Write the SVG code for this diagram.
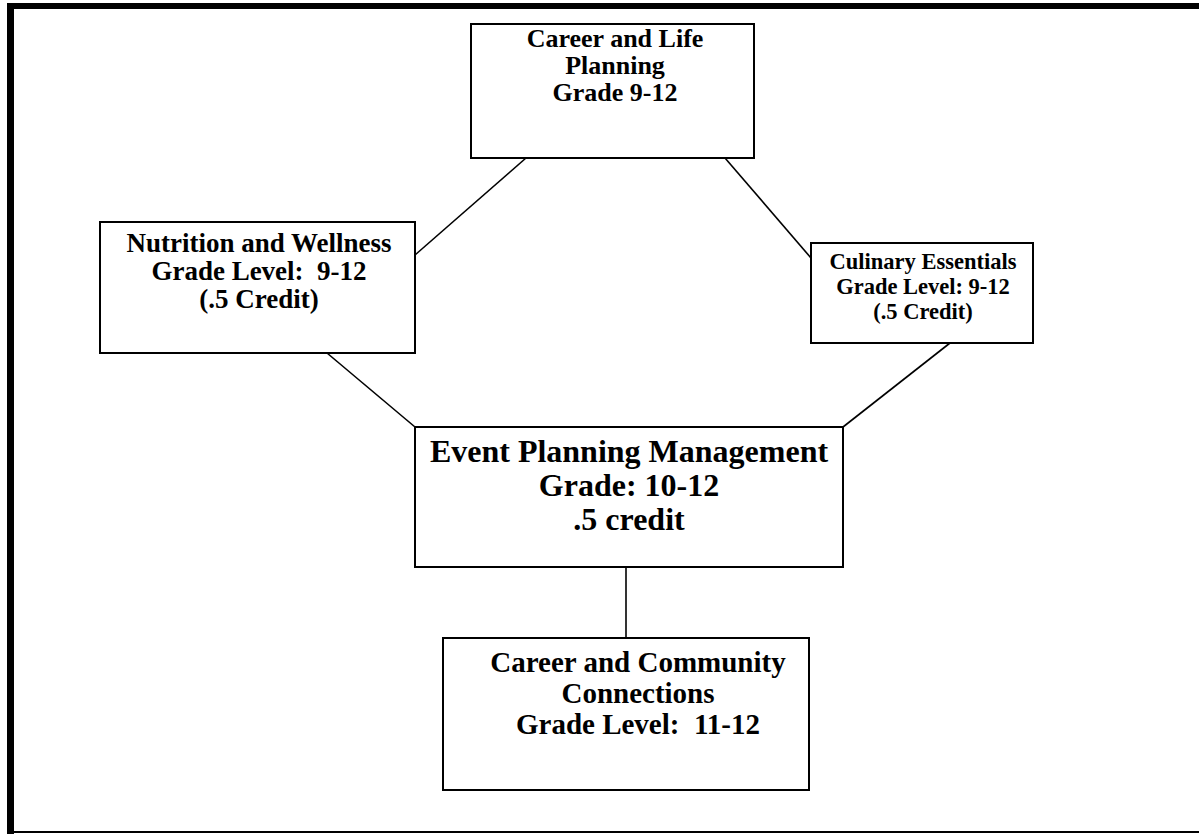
<svg xmlns="http://www.w3.org/2000/svg" width="1199" height="834" viewBox="0 0 1199 834">
<style>
.box{fill:#fff;stroke:#000;stroke-width:2}
.t{font-family:"Liberation Serif","Times New Roman",serif;font-weight:bold;fill:#000;text-anchor:middle}
.c{stroke:#000;stroke-width:1.6;fill:none}
</style>
<rect x="0" y="0" width="1199" height="834" fill="#fff"/>
<g id="frame">
<rect x="7" y="3" width="1192" height="6" fill="#000"/>
<rect x="7" y="3" width="7" height="831" fill="#000"/>
<rect x="7" y="831" width="1192" height="2" fill="#000"/>
</g>
<g id="connectors">
<line class="c" x1="526" y1="158" x2="415" y2="255"/>
<line class="c" x1="725" y1="158" x2="811" y2="258"/>
<line class="c" x1="327" y1="353" x2="415" y2="427"/>
<line class="c" x1="950" y1="343" x2="843" y2="427"/>
<line class="c" x1="626" y1="567" x2="626" y2="638"/>
</g>
<g id="career-life">
<rect class="box" x="471" y="24" width="283" height="134"/>
<text class="t" font-size="26" x="615" y="47">Career and Life</text>
<text class="t" font-size="26" x="615" y="74">Planning</text>
<text class="t" font-size="26" x="615" y="101">Grade 9-12</text>
</g>
<g id="nutrition">
<rect class="box" x="100" y="222" width="315" height="131"/>
<text class="t" font-size="27" x="259" y="252">Nutrition and Wellness</text>
<text class="t" font-size="27" x="259" y="280" xml:space="preserve">Grade Level:  9-12</text>
<text class="t" font-size="27" x="259" y="308">(.5 Credit)</text>
</g>
<g id="culinary">
<rect class="box" x="811" y="243" width="222" height="100"/>
<text class="t" font-size="22.5" x="923" y="269">Culinary Essentials</text>
<text class="t" font-size="22.5" x="923" y="294">Grade Level: 9-12</text>
<text class="t" font-size="22.5" x="923" y="319">(.5 Credit)</text>
</g>
<g id="event">
<rect class="box" x="415" y="427" width="428" height="140"/>
<text class="t" font-size="32" x="629" y="462">Event Planning Management</text>
<text class="t" font-size="32" x="629" y="496">Grade: 10-12</text>
<text class="t" font-size="32" x="629" y="530">.5 credit</text>
</g>
<g id="community">
<rect class="box" x="443" y="638" width="366" height="152"/>
<text class="t" font-size="29" x="638" y="672">Career and Community</text>
<text class="t" font-size="29" x="638" y="703">Connections</text>
<text class="t" font-size="29" x="638" y="734" xml:space="preserve">Grade Level:  11-12</text>
</g>
</svg>
